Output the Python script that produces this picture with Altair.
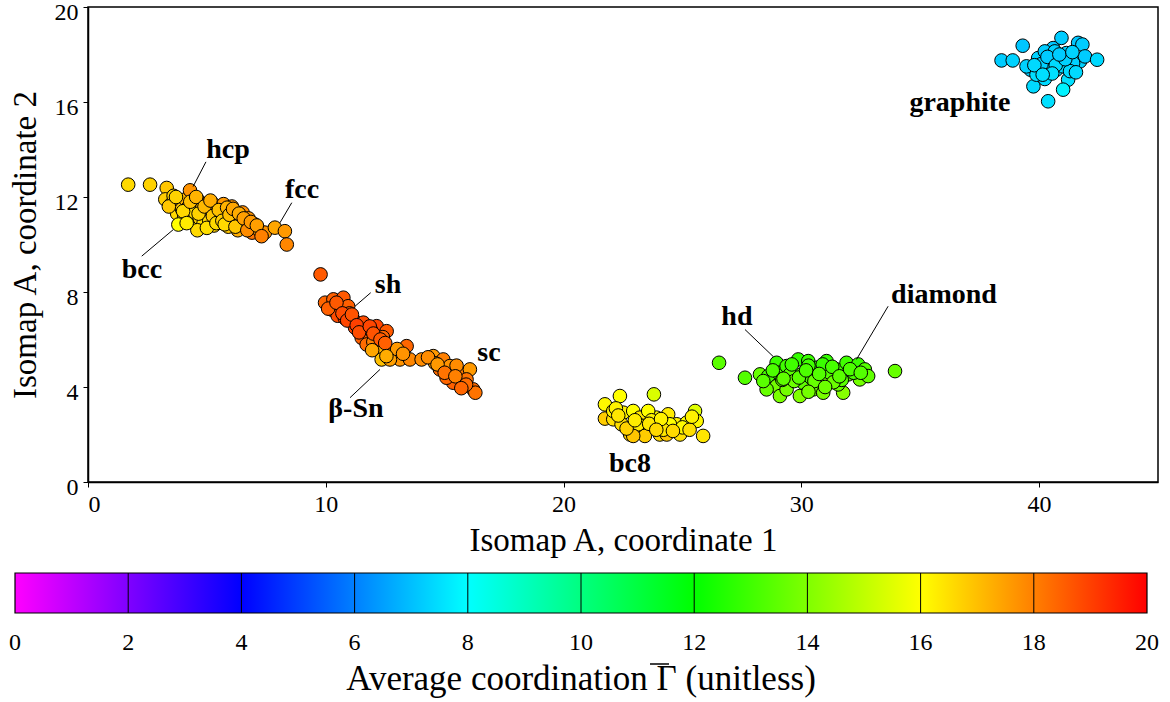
import altair as alt
import pandas as pd

FONT = "Liberation Serif"

# ---- cluster data: Isomap coordinates (x, y) and average coordination (c) ----
xA = [1.69, 2.61, 3.31, 3.25, 3.5, 3.6, 3.75, 3.85, 3.95, 4.05,
      4.1, 4.2, 4.29, 4.35, 4.45, 4.5, 4.6, 4.7, 4.8, 4.85,
      4.95, 5.05, 5.1, 5.2, 5.3, 5.35, 5.45, 5.55, 5.6, 5.7,
      5.8, 5.9, 6.0, 6.05, 6.15, 6.25, 6.3, 6.45, 6.5, 6.6,
      6.75, 6.9, 7.0, 7.2, 7.44, 7.86, 8.28, 8.36, 3.80, 4.6,
      3.4, 3.7, 4.0, 4.15, 4.3, 4.55, 4.65, 4.9, 5.0, 5.15,
      5.25, 5.4, 5.5, 5.65, 5.75, 5.85, 5.95, 6.1, 6.2, 6.35,
      6.55, 6.7, 6.85, 7.1, 7.3]
yA = [12.52, 12.52, 12.38, 11.9, 11.7, 12.05, 11.3, 11.75, 11.5, 11.2,
      11.9, 11.55, 12.28, 11.0, 11.7, 11.35, 11.9, 11.1, 11.55, 10.85,
      11.3, 11.75, 11.0, 11.45, 10.8, 11.65, 11.2, 10.95, 11.5, 11.7,
      11.1, 10.75, 11.35, 11.6, 10.9, 11.2, 10.6, 11.0, 11.35, 10.8,
      11.1, 10.5, 10.85, 10.6, 10.5, 10.71, 10.56, 10.0, 10.84, 10.6,
      11.6, 12.0, 11.4, 10.9, 11.8, 12.0, 11.3, 11.6, 10.7, 11.85,
      11.2, 10.9, 11.45, 11.0, 10.85, 11.55, 11.25, 11.5, 10.75, 11.3,
      11.1, 10.6, 10.95, 10.8, 10.35]
cA = [16.6, 16.7, 16.9, 16.8, 17.0, 16.7, 16.6, 17.1, 16.9, 16.5,
      17.2, 16.8, 17.7, 16.4, 17.0, 16.6, 17.3, 16.8, 17.1, 16.5,
      16.9, 17.4, 16.6, 17.0, 16.7, 17.5, 17.2, 16.8, 17.3, 17.6,
      17.0, 16.9, 17.4, 17.7, 17.1, 17.5, 17.3, 17.6, 17.8, 17.4,
      17.7, 18.2, 17.9, 17.6, 17.7, 17.4, 17.6, 17.9, 16.0, 16.6,
      16.9, 16.7, 16.6, 16.3, 17.0, 17.2, 16.7, 17.1, 16.5, 17.3,
      16.9, 16.6, 17.0, 16.8, 16.6, 17.2, 17.0, 17.4, 16.9, 17.3,
      17.5, 17.8, 17.6, 17.5, 18.0]

xB = [9.78, 9.97, 10.32, 10.74, 10.25, 10.6, 10.94, 10.5, 10.8, 11.0,
      11.16, 11.58, 12.14, 12.56, 11.72, 12.14, 11.23, 11.51, 11.72, 11.9, 12.4,
      12.28, 12.35, 12.84, 13.4, 13.12, 13.54, 12.7, 12.0, 13.0,
      14.03, 14.52, 14.94, 14.8, 15.22, 15.64, 16.06, 15.92, 15.36, 16.2,
      15.08, 15.78, 16.29, 15.5, 14.6,
      10.1, 10.45, 10.7, 10.9, 11.1, 11.3, 11.4, 11.85, 12.0, 12.3,
      12.5, 11.95, 12.55, 13.25, 14.3, 14.7, 15.0, 15.45, 15.9, 15.7]
yB = [8.74, 7.55, 7.69, 7.76, 7.26, 7.33, 7.40, 7.0, 6.9, 7.1,
      6.84, 6.71, 6.56, 6.35, 6.21, 6.07, 6.5, 6.07, 5.79, 6.4, 6.1,
      5.58, 5.16, 5.44, 5.72, 5.16, 5.16, 5.16, 5.9, 5.6,
      5.16, 5.3, 5.16, 4.74, 4.88, 4.6, 4.74, 4.32, 4.18, 3.9,
      4.39, 4.04, 3.76, 4.9, 5.0,
      7.3, 7.55, 7.1, 6.8, 7.05, 6.6, 6.3, 6.55, 6.25, 6.0,
      5.85, 5.55, 5.3, 5.4, 5.25, 4.95, 4.6, 4.45, 4.1, 3.95]
cB = [18.6, 18.4, 18.5, 18.6, 18.3, 18.7, 18.5, 18.8, 18.9, 18.6,
      19.0, 18.8, 18.9, 18.6, 19.1, 18.7, 18.9, 18.5, 18.3, 18.7, 18.4,
      17.2, 17.0, 17.8, 18.4, 17.7, 17.9, 17.5, 18.0, 17.6,
      17.8, 17.6, 18.0, 18.3, 17.7, 18.1, 17.6, 18.2, 18.5, 18.3,
      18.4, 18.0, 18.2, 17.8, 17.5,
      18.5, 18.6, 18.8, 18.9, 18.7, 19.0, 18.8, 18.9, 18.7, 18.6,
      18.5, 17.4, 17.3, 17.7, 17.8, 17.6, 18.2, 18.0, 18.3, 18.4]

xC = [21.74, 22.37, 23.8, 21.74, 22.09, 22.51, 22.93, 23.21, 22.8, 23.35,
      23.42, 23.91, 23.56, 24.05, 24.4, 24.34, 24.76, 24.9, 25.18, 25.53,
      25.6, 25.87, 22.09, 23.14, 24.47, 22.44, 22.93, 23.7, 24.2, 25.0,
      22.2, 22.65, 23.0, 23.6, 24.1, 24.6, 25.3, 22.3, 23.9, 25.4]
yC = [3.27, 3.62, 3.69, 2.67, 2.64, 2.92, 2.99, 2.71, 2.0, 2.36,
      1.94, 2.71, 2.99, 2.0, 2.85, 2.0, 2.43, 2.0, 2.5, 2.99,
      2.57, 1.94, 2.99, 2.43, 2.43, 2.43, 1.94, 2.6, 2.2, 2.3,
      3.1, 2.25, 2.6, 2.45, 2.65, 2.15, 2.2, 2.8, 2.2, 2.75]
cC = [16.1, 16.0, 15.4, 16.8, 16.5, 16.2, 16.0, 16.4, 16.7, 16.6,
      16.8, 16.1, 16.0, 16.6, 16.3, 16.9, 16.2, 16.5, 16.0, 15.5,
      16.1, 16.4, 16.2, 16.3, 16.0, 16.5, 16.9, 16.2, 16.4, 16.1,
      16.2, 16.7, 16.3, 16.4, 16.2, 16.6, 16.5, 16.4, 16.6, 16.2]

xD = [26.54, 33.94, 27.63, 28.26, 28.61, 28.96, 28.96, 29.03, 29.38, 29.52,
      29.87, 30.01, 30.29, 30.64, 31.06, 31.06, 31.48, 31.9, 31.97, 32.39,
      32.67, 32.46, 32.81, 29.94, 29.1, 30.5, 31.76, 29.38, 30.92, 28.54,
      30.08, 31.55, 30.4, 31.2, 29.7, 32.2, 30.9, 29.2, 31.7, 30.3,
      28.4, 28.8, 29.25, 29.6, 29.9, 30.2, 30.55, 30.75, 31.3, 31.35,
      31.6, 32.05, 32.5, 30.3, 31.0]
yD = [5.02, 4.67, 4.39, 4.53, 4.46, 5.02, 4.04, 4.6, 4.88, 4.53,
      5.16, 4.53, 5.09, 4.81, 5.09, 4.32, 4.74, 5.02, 4.53, 4.95,
      4.74, 4.32, 4.46, 3.62, 3.62, 3.9, 3.76, 3.9, 3.76, 3.9,
      4.18, 4.11, 4.4, 4.6, 4.25, 4.6, 4.95, 4.3, 4.3, 4.9,
      4.25, 4.7, 4.35, 4.95, 4.4, 4.7, 4.25, 4.55, 4.85, 4.2,
      4.45, 4.75, 4.6, 3.8, 4.0]
cD = [13.4, 13.6, 13.3, 13.6, 13.1, 12.9, 13.8, 13.2, 13.0, 13.4,
      12.8, 13.3, 12.9, 13.2, 12.8, 13.7, 13.1, 13.0, 13.5, 12.9,
      13.3, 13.8, 13.5, 14.0, 13.9, 13.7, 14.1, 13.8, 13.9, 13.6,
      13.5, 13.6, 13.2, 13.3, 13.7, 13.2, 12.9, 13.6, 13.4, 13.0,
      13.4, 13.2, 13.5, 13.0, 13.4, 13.2, 13.6, 13.3, 13.1, 13.7,
      13.4, 13.2, 13.3, 13.8, 13.7]

xE = [38.42, 38.89, 39.31, 39.64, 39.76, 39.96, 40.24, 40.38, 40.45, 40.59,
      40.94, 40.73, 41.01, 41.22, 41.01, 41.15, 41.64, 41.82, 41.72, 41.93,
      42.44, 39.47, 39.96, 40.24, 40.66, 39.89, 41.43, 40.5, 40.9, 41.3,
      40.1, 40.35, 40.7, 41.1, 40.55, 40.85, 41.4, 39.8, 40.15, 41.55]
yE = [17.75, 17.75, 18.37, 17.36, 16.66, 17.85, 16.97, 16.03, 17.78, 18.27,
      18.7, 17.36, 17.5, 16.94, 16.52, 18.06, 18.49, 18.42, 17.71, 17.92,
      17.78, 17.5, 17.36, 18.13, 18.13, 17.15, 17.64, 17.6, 17.9, 17.3,
      17.6, 17.9, 17.55, 17.8, 17.2, 18.0, 18.1, 17.55, 17.15, 17.25]
cE = [7.2, 7.3, 7.1, 7.2, 7.4, 7.3, 7.4, 7.5, 7.2, 7.1,
      7.2, 7.3, 7.4, 7.5, 7.8, 7.3, 7.1, 7.2, 7.3, 7.2,
      7.4, 7.3, 7.4, 7.2, 7.3, 7.5, 7.3, 7.4, 7.2, 7.4,
      7.3, 7.2, 7.4, 7.3, 7.5, 7.2, 7.3, 7.4, 7.5, 7.4]

# ---- annotations ----
label_text = ["hcp", "fcc", "bcc", "sh", "β-Sn", "sc", "bc8", "hd", "diamond", "graphite"]
label_x = [5.89, 9.0, 2.27, 12.62, 11.27, 16.86, 22.79, 27.29, 36.0, 36.67]
label_y = [13.99, 12.31, 8.94, 8.31, 3.06, 5.42, 0.75, 6.93, 7.89, 15.97]

lead_x = [4.96, 8.57, 2.26, 11.89, 11.02, 27.63, 33.65]
lead_y = [13.48, 11.76, 9.51, 7.97, 3.55, 6.42, 7.40]
lead_x2 = [4.42, 8.07, 3.59, 11.23, 12.28, 28.82, 32.32]
lead_y2 = [12.44, 10.91, 10.63, 7.40, 4.74, 5.28, 5.16]

# ---- colour bar ----
cmap_stops = [0, 4, 8, 12, 16, 20]
cmap_colors = ["#ff00ff", "#0000ff", "#00ffff", "#00ff00", "#ffff00", "#ff0000"]
cbar_ticks = [0, 2, 4, 6, 8, 10, 12, 14, 16, 18, 20]
cbar_edges = [2, 4, 6, 8, 10, 12, 14, 16, 18]
cbar_title = "Average coordination \u0393 (unitless)"

pts = pd.DataFrame({
    "x": xA + xB + xC + xD + xE,
    "y": yA + yB + yC + yD + yE,
    "c": cA + cB + cC + cD + cE,
})
labels = pd.DataFrame({"label": label_text, "x": label_x, "y": label_y})
leads = pd.DataFrame({"x": lead_x, "y": lead_y, "x2": lead_x2, "y2": lead_y2})
edges = pd.DataFrame({"v": cbar_edges})
ticks = pd.DataFrame({"v": cbar_ticks, "t": [str(t) for t in cbar_ticks]})
bar = pd.DataFrame({"lo": [cmap_stops[0]], "hi": [cmap_stops[-1]]})
mid = (cmap_stops[0] + cmap_stops[-1]) / 2
ttl = pd.DataFrame({"v": [mid], "t": [cbar_title]})

W, H = 1070, 475
CB_LEFT, CB_W = -73, 1132
CB_TOP, CB_H = 566, 40

xscale = alt.Scale(domain=[0, 45], nice=False, zero=False)
yscale = alt.Scale(domain=[0, 20], nice=False, zero=False)
cbscale = alt.Scale(domain=[cmap_stops[0], cmap_stops[-1]], range=[CB_LEFT, CB_LEFT + CB_W],
                    nice=False, zero=False)

points = alt.Chart(pts).mark_circle(
    size=185, stroke="black", strokeWidth=1, opacity=1
).encode(
    x=alt.X("x:Q", scale=xscale,
            axis=alt.Axis(values=[0, 10, 20, 30, 40], title="Isomap A, coordinate 1",
                          titlePadding=8)),
    y=alt.Y("y:Q", scale=yscale,
            axis=alt.Axis(values=[0, 4, 8, 12, 16, 20], title="Isomap A, coordinate 2",
                          titlePadding=12, labelOffset=5)),
    color=alt.Color("c:Q",
                    scale=alt.Scale(domain=cmap_stops, range=cmap_colors, interpolate="rgb"),
                    legend=None),
)

lines = alt.Chart(leads).mark_rule(color="black", strokeWidth=1).encode(
    x=alt.X("x:Q", scale=xscale), y=alt.Y("y:Q", scale=yscale), x2="x2:Q", y2="y2:Q"
)

texts = alt.Chart(labels).mark_text(
    font=FONT, fontSize=28, fontWeight="bold", color="black"
).encode(x=alt.X("x:Q", scale=xscale), y=alt.Y("y:Q", scale=yscale), text="label:N")

grad = alt.LinearGradient(
    gradient="linear", x1=0, x2=1, y1=0, y2=0,
    stops=[alt.GradientStop(color=c, offset=s / cmap_stops[-1])
           for s, c in zip(cmap_stops, cmap_colors)],
)

cbar = alt.Chart(bar).mark_rect(fill=grad, stroke="black", strokeWidth=1.2).encode(
    x=alt.X("lo:Q", scale=cbscale, axis=None),
    x2="hi:Q",
    y=alt.value(CB_TOP),
    y2=alt.value(CB_TOP + CB_H),
)

seps = alt.Chart(edges).mark_rule(color="black", strokeWidth=1).encode(
    x=alt.X("v:Q", scale=cbscale, axis=None),
    y=alt.value(CB_TOP),
    y2=alt.value(CB_TOP + CB_H),
)

cticks = alt.Chart(ticks).mark_text(font=FONT, fontSize=24, color="black").encode(
    x=alt.X("v:Q", scale=cbscale, axis=None),
    y=alt.value(CB_TOP + 70),
    text="t:N",
)

ctitle = alt.Chart(ttl).mark_text(font=FONT, fontSize=35, color="black").encode(
    x=alt.X("v:Q", scale=cbscale, axis=None),
    y=alt.value(CB_TOP + 106),
    text="t:N",
)

# overline over the Gamma of the colour-bar title
ctitle_bar = alt.Chart(ttl).mark_rule(
    color="black", strokeWidth=1.5, xOffset=69, x2Offset=88
).encode(
    x=alt.X("v:Q", scale=cbscale, axis=None),
    x2="v:Q",
    y=alt.value(CB_TOP + 91),
)

main = alt.layer(points, lines, texts)
colorbar = alt.layer(cbar, seps, cticks, ctitle, ctitle_bar)
chart = alt.layer(main, colorbar).resolve_scale(x="independent").properties(
    width=W, height=H,
    autosize=alt.AutoSizeParams(type="none"),
    padding={"left": 88, "top": 7, "right": 12, "bottom": 220},
).configure_view(
    stroke="black", strokeWidth=1.5
).configure_axis(
    grid=False, domainColor="black", domainWidth=1.5, tickColor="black", tickSize=5,
    labelFont=FONT, labelFontSize=24, labelColor="black", labelPadding=5,
    titleFont=FONT, titleFontSize=33, titleFontWeight="normal", titleColor="black",
)

chart.save("out.html", embed_options={"renderer": "svg", "actions": False})
